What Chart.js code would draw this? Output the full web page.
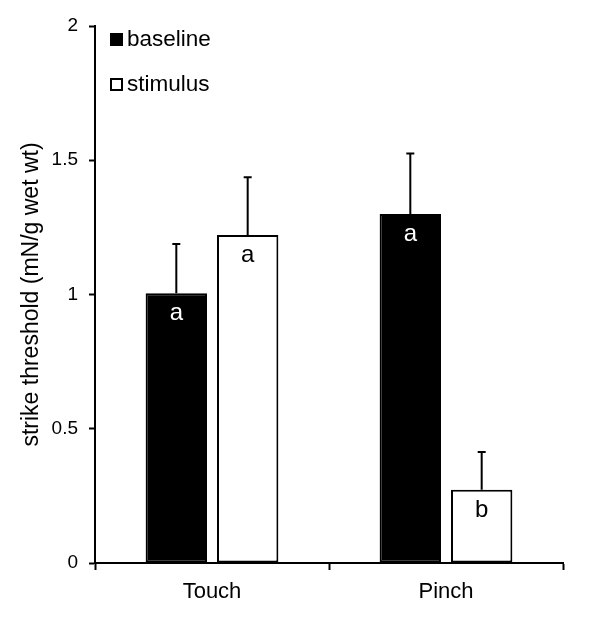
<!DOCTYPE html>
<html>
<head>
<meta charset="utf-8">
<script src="https://cdn.jsdelivr.net/npm/chart.js@4/dist/chart.umd.min.js"></script>
<style>
  body { margin: 0; background: #fff; }
</style>
</head>
<body>
<canvas id="chart" width="602" height="619"></canvas>
<script>
// Data
const categories = ['Touch', 'Pinch'];
const baselineMean = [1.005, 1.30];
const baselineErr = [0.183, 0.225];
const baselineLetters = ['a', 'a'];
const stimulusMean = [1.222, 0.273];
const stimulusErr = [0.215, 0.14];
const stimulusLetters = ['a', 'b'];
const yTicks = [0, 0.5, 1, 1.5, 2];

const FONT = '"Liberation Sans", Arial, sans-serif';

// Error bars + significance letters
const errorBarPlugin = {
    id: 'errorBars',
    afterDatasetsDraw(chart) {
        const ctx = chart.ctx;
        const y = chart.scales.y;
        chart.data.datasets.forEach((ds, i) => {
            const meta = chart.getDatasetMeta(i);
            meta.data.forEach((bar, j) => {
                const top = y.getPixelForValue(ds.data[j] + ds.errors[j]);
                ctx.save();
                ctx.strokeStyle = '#000';
                ctx.lineWidth = 2;
                ctx.beginPath();
                ctx.moveTo(bar.x, bar.y);
                ctx.lineTo(bar.x, top);
                ctx.moveTo(bar.x - 4, top);
                ctx.lineTo(bar.x + 4, top);
                ctx.stroke();
                // letter inside the bar
                ctx.fillStyle = ds.letterColor;
                ctx.font = '24px ' + FONT;
                ctx.textAlign = 'center';
                ctx.textBaseline = 'alphabetic';
                ctx.fillText(ds.letters[j], bar.x, bar.y + 27);
                ctx.restore();
            });
        });
    }
};

// Legend drawn inside the plot area, top-left
const insideLegend = {
    id: 'insideLegend',
    afterDraw(chart) {
        const ctx = chart.ctx;
        const area = chart.chartArea;
        chart.data.datasets.forEach((ds, i) => {
            const x = area.left + 15;
            const y = area.top + 7 + i * 45;
            ctx.save();
            ctx.fillStyle = ds.backgroundColor;
            ctx.strokeStyle = '#000';
            ctx.lineWidth = 2;
            ctx.fillRect(x, y, 13, 13);
            ctx.strokeRect(x + 1, y + 1, 11, 11);
            ctx.fillStyle = '#000';
            ctx.font = '22.5px ' + FONT;
            ctx.textBaseline = 'middle';
            ctx.fillText(ds.label, x + 17, y + 7);
            ctx.restore();
        });
    }
};

new Chart(document.getElementById('chart'), {
    type: 'bar',
    data: {
        labels: categories,
        datasets: [{
            label: 'baseline',
            data: baselineMean,
            errors: baselineErr,
            letters: baselineLetters,
            letterColor: '#fff',
            backgroundColor: '#000',
            borderColor: '#000',
            borderWidth: 2,
            borderSkipped: false
        }, {
            label: 'stimulus',
            data: stimulusMean,
            errors: stimulusErr,
            letters: stimulusLetters,
            letterColor: '#000',
            backgroundColor: '#fff',
            borderColor: '#000',
            borderWidth: 2,
            borderSkipped: false
        }]
    },
    options: {
        responsive: false,
        animation: false,
        categoryPercentage: 0.61,
        barPercentage: 0.86,
        layout: { padding: { top: 26, right: 39, left: 0, bottom: 0 } },
        plugins: { legend: { display: false }, tooltip: { enabled: false } },
        scales: {
            x: {
                grid: { offset: true, drawOnChartArea: false, tickLength: 7, tickWidth: 2, tickColor: '#000' },
                border: { color: '#000', width: 2 },
                ticks: { color: '#000', font: { family: FONT, size: 22 }, padding: 9 },
                afterFit: (scale) => { scale.height = 56; }
            },
            y: {
                min: 0,
                max: 2,
                afterBuildTicks: (scale) => { scale.ticks = yTicks.map(v => ({ value: v })); },
                grid: { drawOnChartArea: false, tickLength: 6, tickWidth: 2, tickColor: '#000' },
                border: { color: '#000', width: 2 },
                ticks: {
                    color: '#000',
                    font: { family: FONT, size: 19 },
                    padding: 11,
                    callback: (v) => String(v)
                },
                title: {
                    display: true,
                    text: 'strike threshold (mN/g wet wt)',
                    color: '#000',
                    font: { family: FONT, size: 23 },
                    padding: { top: 18, bottom: 0 }
                },
                afterFit: (scale) => { scale.width = 95; }
            }
        }
    },
    plugins: [errorBarPlugin, insideLegend]
});
</script>
</body>
</html>
